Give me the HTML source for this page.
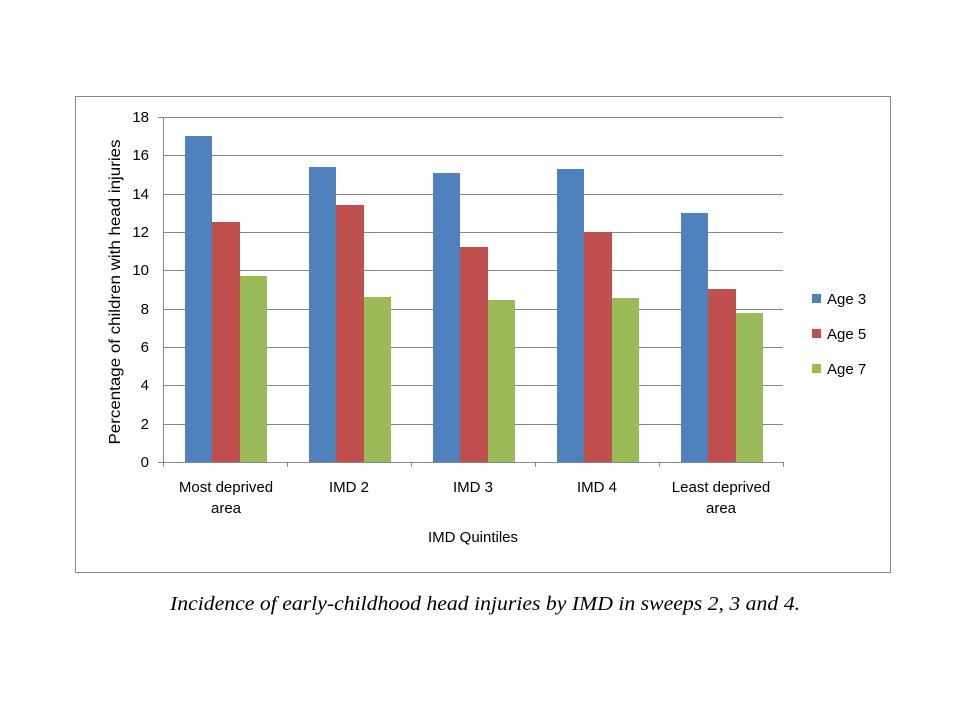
<!DOCTYPE html>
<html><head><style>body{margin:0;background:#fff}svg{display:block}</style></head><body>
<svg width="960" height="720" xmlns="http://www.w3.org/2000/svg" font-family="Liberation Sans, sans-serif">
<rect x="75.5" y="96.5" width="815" height="476" fill="#fff" stroke="#888" stroke-width="1"/>
<g stroke="#888" stroke-width="1">
<line x1="163" x2="783" y1="117.5" y2="117.5"/>
<line x1="163" x2="783" y1="155.5" y2="155.5"/>
<line x1="163" x2="783" y1="194.5" y2="194.5"/>
<line x1="163" x2="783" y1="232.5" y2="232.5"/>
<line x1="163" x2="783" y1="270.5" y2="270.5"/>
<line x1="163" x2="783" y1="309.5" y2="309.5"/>
<line x1="163" x2="783" y1="347.5" y2="347.5"/>
<line x1="163" x2="783" y1="385.5" y2="385.5"/>
<line x1="163" x2="783" y1="424.5" y2="424.5"/>
<line x1="158" x2="783" y1="462.5" y2="462.5"/>
<line x1="163.5" x2="163.5" y1="117" y2="462"/>
<line x1="158" x2="163" y1="117.5" y2="117.5"/>
<line x1="287.5" x2="287.5" y1="462" y2="467"/>
<line x1="411.5" x2="411.5" y1="462" y2="467"/>
<line x1="535.5" x2="535.5" y1="462" y2="467"/>
<line x1="659.5" x2="659.5" y1="462" y2="467"/>
<line x1="783.5" x2="783.5" y1="462" y2="467"/>
<line x1="163.5" x2="163.5" y1="462" y2="467"/>
</g>
<g fill="#4f81bd">
<rect x="185" y="136" width="27" height="326"/>
<rect x="309" y="167" width="27" height="295"/>
<rect x="433" y="173" width="27" height="289"/>
<rect x="557" y="169" width="27" height="293"/>
<rect x="681" y="213" width="27" height="249"/>
</g>
<g fill="#c0504d">
<rect x="212" y="222" width="28" height="240"/>
<rect x="336" y="205" width="28" height="257"/>
<rect x="460" y="247" width="28" height="215"/>
<rect x="584" y="232" width="28" height="230"/>
<rect x="708" y="289" width="28" height="173"/>
</g>
<g fill="#9bbb59">
<rect x="240" y="276" width="27" height="186"/>
<rect x="364" y="297" width="27" height="165"/>
<rect x="488" y="300" width="27" height="162"/>
<rect x="612" y="298" width="27" height="164"/>
<rect x="736" y="313" width="27" height="149"/>
</g>
<g font-size="15" fill="#000" text-anchor="end">
<text x="149" y="122">18</text><text x="149" y="160">16</text><text x="149" y="199">14</text>
<text x="149" y="237">12</text><text x="149" y="275">10</text><text x="149" y="314">8</text>
<text x="149" y="352">6</text><text x="149" y="390">4</text><text x="149" y="429">2</text>
<text x="149" y="467">0</text>
</g>
<g font-size="15" fill="#000" text-anchor="middle">
<text x="226" y="492">Most deprived</text><text x="226" y="513">area</text>
<text x="349" y="492">IMD 2</text>
<text x="473" y="492">IMD 3</text>
<text x="597" y="492">IMD 4</text>
<text x="721" y="492">Least deprived</text><text x="721" y="513">area</text>
<text x="473" y="542">IMD Quintiles</text>
<text transform="translate(120,292) rotate(-90)" font-size="16" textLength="305" lengthAdjust="spacingAndGlyphs">Percentage of children with head injuries</text>
</g>
<rect x="812" y="294" width="9" height="9" fill="#4f81bd"/>
<rect x="812" y="329" width="9" height="9" fill="#c0504d"/>
<rect x="812" y="364" width="9" height="9" fill="#9bbb59"/>
<g font-size="15" fill="#000">
<text x="827" y="304">Age 3</text><text x="827" y="339">Age 5</text><text x="827" y="374">Age 7</text>
</g>
<text x="485" y="610" text-anchor="middle" font-family="Liberation Serif, serif" font-style="italic" font-size="20" textLength="630" lengthAdjust="spacingAndGlyphs">Incidence of early-childhood head injuries by IMD in sweeps 2, 3 and 4.</text>
</svg>
</body></html>
